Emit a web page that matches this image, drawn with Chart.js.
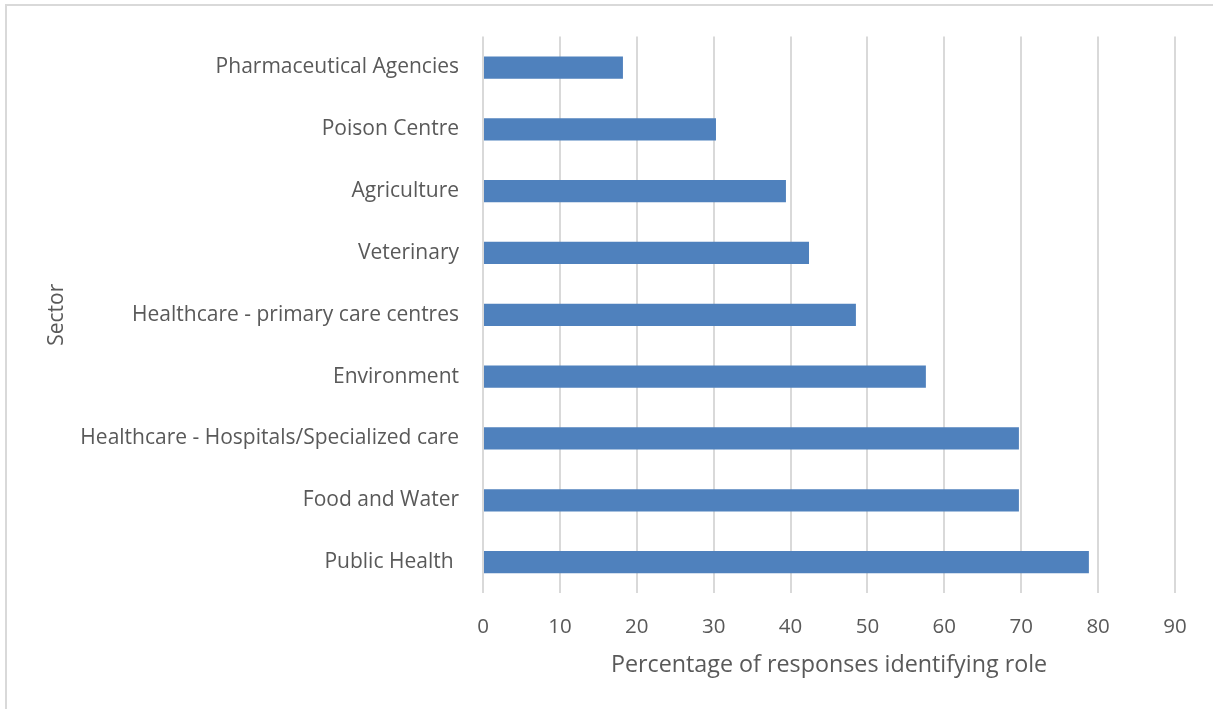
<!DOCTYPE html>
<html>
<head>
<meta charset="utf-8">
<script src="https://cdn.jsdelivr.net/npm/chart.js@4/dist/chart.umd.min.js"></script>
<style>
  html, body { margin: 0; padding: 0; background: #fff; }
  #wrap { width: 1213px; height: 709px; position: relative; }
</style>
</head>
<body>
<div id="wrap"><canvas id="chart" width="1213" height="709"></canvas></div>
<script>
// data
let sectors = [
  "Pharmaceutical Agencies",
  "Poison Centre",
  "Agriculture",
  "Veterinary",
  "Healthcare - primary care centres",
  "Environment",
  "Healthcare - Hospitals/Specialized care",
  "Food and Water",
  "Public Health "
];
let percentages = [18.2, 30.3, 39.4, 42.4, 48.5, 57.6, 69.7, 69.7, 78.8];
let xTicks = [0, 10, 20, 30, 40, 50, 60, 70, 80, 90];

let textColor = "#595959";
let fontFamily = "'Open Sans', 'Noto Sans', sans-serif";

// light frame around the chart
let framePlugin = {
  id: "frame",
  beforeDraw(c) {
    let ctx = c.ctx;
    ctx.save();
    ctx.strokeStyle = "#d9d9d9";
    ctx.lineWidth = 2;
    ctx.strokeRect(6, 5, 1220, 720);
    ctx.restore();
  }
};

let ctx = document.getElementById("chart").getContext("2d");
let chart = new Chart(ctx, {
  type: "bar",
  data: {
    labels: sectors,
    datasets: [{
      data: percentages,
      backgroundColor: "#4f81bd",
      categoryPercentage: 1,
      barPercentage: 0.36
    }]
  },
  options: {
    indexAxis: "y",
    responsive: false,
    animation: false,
    layout: { padding: { top: 35, right: 38, left: 0, bottom: 0 } },
    plugins: {
      legend: { display: false },
      tooltip: { enabled: false }
    },
    scales: {
      x: {
        min: 0,
        max: 90,
        afterBuildTicks: s => { s.ticks = xTicks.map(v => ({ value: v })); },
        afterFit: s => { s.height = 709 - 593; },
        border: { display: false },
        grid: { color: "#d9d9d9", lineWidth: 2, drawTicks: false },
        ticks: { color: textColor, padding: 22, font: { family: fontFamily, size: 20.5 } },
        title: {
          display: true,
          text: "Percentage of responses identifying role",
          color: textColor,
          font: { family: fontFamily, size: 23.3 },
          padding: { top: 0, bottom: 30 }
        }
      },
      y: {
        afterFit: s => { s.width = 483; },
        border: { display: false },
        grid: { display: false, drawTicks: false },
        ticks: { color: textColor, padding: 24, font: { family: fontFamily, size: 21 } },
        title: {
          display: true,
          text: "Sector",
          color: textColor,
          font: { family: fontFamily, size: 21 },
          padding: { top: 44, bottom: 0 }
        }
      }
    }
  },
  plugins: [framePlugin]
});
</script>
</body>
</html>
